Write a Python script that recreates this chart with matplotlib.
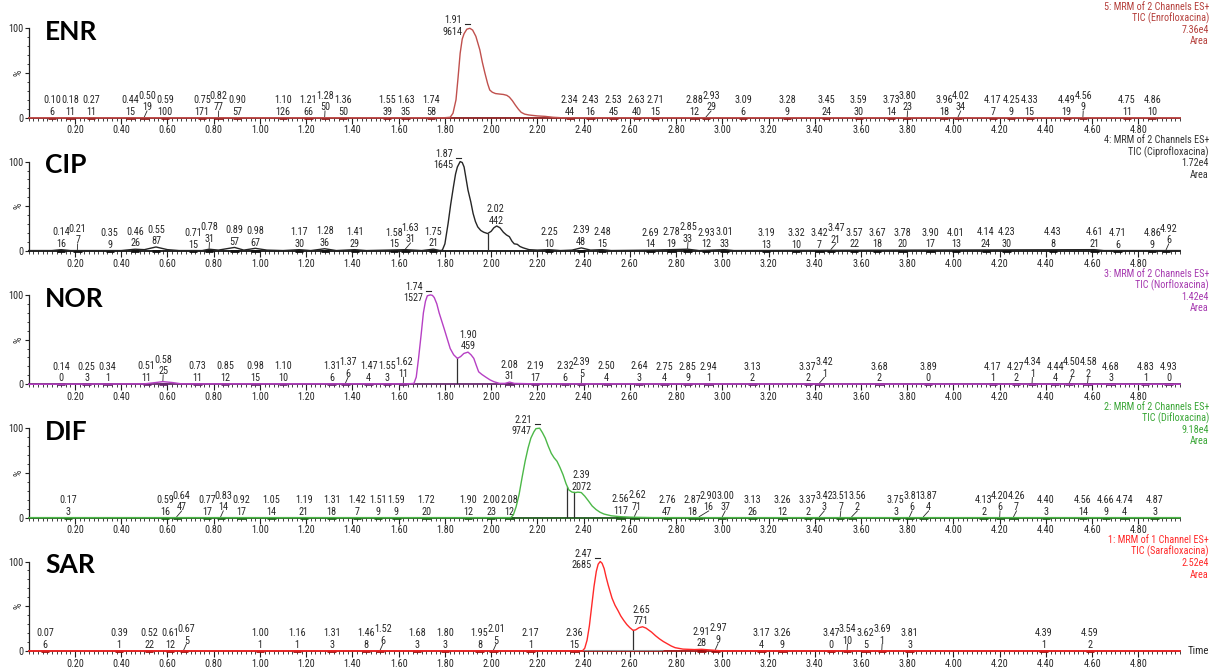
import numpy as np
import matplotlib
matplotlib.use("Agg")
import matplotlib.pyplot as plt
from matplotlib import font_manager
from matplotlib.ticker import MultipleLocator, FixedLocator, FormatStrFormatter

# ---------------- chromatogram traces (time in min, relative intensity %) ----------------
enr_time = [0.00, 1.80, 1.823, 1.835, 1.848, 1.857, 1.866, 1.875, 1.883, 1.895, 1.908, 1.920,
            1.934, 1.951, 1.962, 1.973, 1.985, 1.994, 2.005, 2.019, 2.035, 2.053, 2.068, 2.079,
            2.092, 2.105, 2.118, 2.130, 2.145, 2.164, 2.200, 2.233, 2.267, 2.300, 4.98]
enr_signal = [0.0, 0.0, 0.5, 5, 20, 45, 72, 88, 94, 99, 100, 98,
              91, 76, 62, 50, 38, 31, 28.5, 27, 26.5, 26, 25, 23,
              19, 14, 9.5, 6, 4, 3, 2, 1.5, 0.5, 0.0, 0.0]

cip_time = [0.00, 0.10, 0.14, 0.18, 0.40, 0.46, 0.50, 0.55, 0.60, 0.65, 0.75, 0.78, 0.82, 0.89,
            0.93, 0.98, 1.03, 1.10, 1.17, 1.22, 1.28, 1.33, 1.41, 1.46, 1.55, 1.63, 1.70, 1.75,
            1.78, 1.789, 1.800, 1.814, 1.825, 1.837, 1.846, 1.854, 1.866, 1.875, 1.883, 1.900,
            1.912, 1.922, 1.932, 1.942, 1.955, 1.968, 1.985, 2.000, 2.012, 2.024, 2.038, 2.053,
            2.066, 2.079, 2.090, 2.100, 2.113, 2.125, 2.139, 2.164, 2.20, 2.25, 2.30, 2.35, 2.39,
            2.43, 2.48, 2.52, 2.69, 2.78, 2.85, 2.90, 3.01, 3.05, 4.61, 4.65, 4.98]
cip_signal = [0.5, 0.5, 1.5, 0.5, 0.5, 2, 1.5, 4.5, 1.5, 0.5, 0.5, 2, 1, 4,
              1, 3, 1, 0.5, 1.5, 0.5, 2.5, 0.5, 1.5, 0.5, 1, 1.5, 0.5, 2,
              0.5, 1, 8, 31, 52, 72, 86, 94, 100, 99, 94, 68,
              55, 42, 33, 27, 23, 21, 19.5, 22, 26, 28, 26, 21,
              18, 16, 11, 8, 7.5, 5, 3.5, 1.5, 1, 1.5, 0.5, 1, 3.5,
              1, 1.5, 0.5, 1, 1.5, 2, 0.5, 1.5, 0.5, 1.5, 0.5, 0.5]

nor_time = [0.00, 0.50, 0.55, 0.58, 0.62, 0.66, 1.64, 1.666, 1.676, 1.686, 1.697, 1.707, 1.716,
            1.724, 1.737, 1.746, 1.754, 1.765, 1.775, 1.786, 1.797, 1.810, 1.823, 1.838, 1.854,
            1.868, 1.882, 1.900, 1.913, 1.925, 1.936, 1.946, 1.960, 1.977, 1.995, 2.011, 2.036,
            2.06, 2.08, 2.10, 2.19, 4.98]
nor_signal = [0.0, 0.5, 2, 3, 2, 0.5, 0.5, 1, 8, 29, 55, 80, 93,
              99, 100, 99.5, 97, 90, 80, 71, 62, 51, 40, 33, 29,
              31, 34.5, 36, 33, 29, 21, 14, 11, 8, 5, 3, 1,
              1, 2.5, 1, 0.5, 0.0]

dif_time = [0.00, 2.085, 2.096, 2.108, 2.121, 2.134, 2.147, 2.160, 2.172, 2.185, 2.194, 2.210,
            2.222, 2.234, 2.247, 2.260, 2.272, 2.285, 2.298, 2.311, 2.324, 2.336, 2.350, 2.365,
            2.375, 2.390, 2.405, 2.420, 2.437, 2.454, 2.471, 2.488, 2.52, 2.56, 2.60, 2.70, 4.98]
dif_signal = [0.0, 0.0, 3, 12, 26, 45, 63, 78, 89, 96, 99.5, 100,
              95, 89, 80, 72, 67, 63, 56, 48, 38, 31, 28.5, 28,
              28.5, 28, 24, 19, 13, 9, 6, 4, 2, 1, 0.5, 0.0, 0.0]

sar_time = [0.00, 2.395, 2.405, 2.415, 2.425, 2.435, 2.445, 2.455, 2.463, 2.472, 2.480, 2.489,
            2.497, 2.506, 2.515, 2.523, 2.536, 2.549, 2.561, 2.574, 2.587, 2.600, 2.614, 2.625,
            2.640, 2.655, 2.670, 2.694, 2.711, 2.728, 2.745, 2.762, 2.779, 2.796, 2.83, 2.88,
            2.91, 2.95, 3.00, 4.98]
sar_signal = [0.0, 0.0, 3, 12, 28, 50, 72, 89, 97, 100, 98, 92,
              83, 74, 66, 59, 51, 45, 39, 34, 29.5, 26, 23, 23.5,
              26, 27, 25.5, 21, 17, 13.5, 10.5, 8, 5.5, 3.6, 2, 1.5,
              1.8, 1, 0.0, 0.0]

# ---------------- integrated peaks: retention time and area ----------------
enr_rt = [0.10, 0.18, 0.27, 0.44, 0.50, 0.59, 0.75, 0.82, 0.90, 1.10, 1.21, 1.28, 1.36, 1.55,
          1.63, 1.74, 1.91, 2.34, 2.43, 2.53, 2.63, 2.71, 2.88, 2.93, 3.09, 3.28, 3.45, 3.59,
          3.73, 3.80, 3.96, 4.02, 4.17, 4.25, 4.33, 4.49, 4.56, 4.75, 4.86]
enr_area = [6, 11, 11, 15, 19, 100, 171, 77, 57, 126, 66, 50, 50, 39,
            35, 58, 9614, 44, 16, 45, 40, 15, 12, 29, 6, 9, 24, 30,
            14, 23, 18, 34, 7, 9, 15, 19, 9, 11, 10]

cip_rt = [0.14, 0.21, 0.35, 0.46, 0.55, 0.71, 0.78, 0.89, 0.98, 1.17, 1.28, 1.41, 1.58, 1.63,
          1.75, 1.87, 2.02, 2.25, 2.39, 2.48, 2.69, 2.78, 2.85, 2.93, 3.01, 3.19, 3.32, 3.42,
          3.47, 3.57, 3.67, 3.78, 3.90, 4.01, 4.14, 4.23, 4.43, 4.61, 4.71, 4.86, 4.92]
cip_area = [16, 7, 9, 26, 87, 15, 31, 57, 67, 30, 36, 29, 15, 31,
            21, 1645, 442, 10, 48, 15, 14, 19, 33, 12, 33, 13, 10, 7,
            21, 22, 18, 20, 17, 13, 24, 30, 8, 21, 6, 9, 6]

nor_rt = [0.14, 0.25, 0.34, 0.51, 0.58, 0.73, 0.85, 0.98, 1.10, 1.31, 1.37, 1.47, 1.55, 1.62,
          1.74, 1.90, 2.08, 2.19, 2.32, 2.39, 2.50, 2.64, 2.75, 2.85, 2.94, 3.13, 3.37, 3.42,
          3.68, 3.89, 4.17, 4.27, 4.34, 4.44, 4.50, 4.58, 4.68, 4.83, 4.93]
nor_area = [0, 3, 1, 11, 25, 11, 12, 15, 10, 6, 6, 4, 3, 11,
            1527, 459, 31, 17, 6, 5, 4, 3, 4, 9, 1, 2, 2, 1,
            2, 0, 1, 2, 1, 4, 2, 2, 3, 1, 0]

dif_rt = [0.17, 0.59, 0.64, 0.77, 0.83, 0.92, 1.05, 1.19, 1.31, 1.42, 1.51, 1.59, 1.72, 1.90,
          2.00, 2.08, 2.21, 2.39, 2.56, 2.62, 2.76, 2.87, 2.90, 3.00, 3.13, 3.26, 3.37, 3.42,
          3.51, 3.56, 3.75, 3.81, 3.87, 4.13, 4.20, 4.26, 4.40, 4.56, 4.66, 4.74, 4.87]
dif_area = [3, 16, 47, 17, 14, 17, 14, 21, 18, 7, 9, 9, 20, 12,
            23, 12, 9747, 2072, 117, 71, 47, 18, 16, 37, 26, 12, 2, 3,
            7, 2, 3, 6, 4, 2, 6, 7, 3, 14, 9, 4, 3]

sar_rt = [0.07, 0.39, 0.52, 0.61, 0.67, 1.00, 1.16, 1.31, 1.46, 1.52, 1.68, 1.80, 1.95, 2.01,
          2.17, 2.36, 2.47, 2.65, 2.91, 2.97, 3.17, 3.26, 3.47, 3.54, 3.62, 3.69, 3.81, 4.39, 4.59]
sar_area = [6, 1, 22, 12, 5, 1, 1, 3, 8, 6, 3, 3, 8, 5,
            1, 15, 2685, 771, 28, 9, 4, 9, 0, 10, 5, 1, 3, 1, 2]

# peak split (drop line) times
enr_splits = []
cip_splits = [1.985]
nor_splits = [1.854]
dif_splits = [2.33, 2.36]
sar_splits = [2.614]

# channel descriptions
enr_header = ["5: MRM of 2 Channels ES+", "TIC (Enrofloxacina)", "7.36e4", "Area"]
cip_header = ["4: MRM of 2 Channels ES+", "TIC (Ciprofloxacina)", "1.72e4", "Area"]
nor_header = ["3: MRM of 2 Channels ES+", "TIC (Norfloxacina)", "1.42e4", "Area"]
dif_header = ["2: MRM of 2 Channels ES+", "TIC (Difloxacina)", "9.18e4", "Area"]
sar_header = ["1: MRM of 1 Channel ES+", "TIC (Sarafloxacina)", "2.52e4", "Area"]

panel_names = ["ENR", "CIP", "NOR", "DIF", "SAR"]
x_tick_values = [0.20, 0.40, 0.60, 0.80, 1.00, 1.20, 1.40, 1.60, 1.80, 2.00, 2.20, 2.40,
                 2.60, 2.80, 3.00, 3.20, 3.40, 3.60, 3.80, 4.00, 4.20, 4.40, 4.60, 4.80]

# ---------------- styling ----------------
installed = {f.name for f in font_manager.fontManager.ttflist}
narrow_candidates = ["Liberation Sans Narrow", "Arial Narrow", "Roboto Condensed",
                     "Noto Sans Condensed", "Open Sans Condensed", "Noto Sans SemiCondensed"]
NARROW = next((f for f in narrow_candidates if f in installed), None)
if NARROW is None:
    SMALL = ["Liberation Sans", "DejaVu Sans"]
    FS = 6.2
    CHAR_PX = 4.0
else:
    SMALL = [NARROW, "Liberation Sans", "DejaVu Sans"]
    FS = 7.3
    CHAR_PX = 4.0
TITLE_FONT = ["Lato", "Open Sans", "DejaVu Sans"]

panels = [
    dict(t=enr_time, y=enr_signal, rt=enr_rt, area=enr_area, splits=enr_splits,
         header=enr_header, color="#c0504d", hcolor="#b5403c", base="#8b1c1c"),
    dict(t=cip_time, y=cip_signal, rt=cip_rt, area=cip_area, splits=cip_splits,
         header=cip_header, color="#262626", hcolor="#333333", base="#111111"),
    dict(t=nor_time, y=nor_signal, rt=nor_rt, area=nor_area, splits=nor_splits,
         header=nor_header, color="#b640c4", hcolor="#a63ab0", base="#6a2a70"),
    dict(t=dif_time, y=dif_signal, rt=dif_rt, area=dif_area, splits=dif_splits,
         header=dif_header, color="#4cb848", hcolor="#3aa636", base="#1f5a1c"),
    dict(t=sar_time, y=sar_signal, rt=sar_rt, area=sar_area, splits=sar_splits,
         header=sar_header, color="#ff2a2a", hcolor="#ff2a2a", base="#a01010"),
]

W, H = 1215, 667
X_LEFT, X_RIGHT = 28.8, 1180.0
T_MAX = 4.98
BASE0, STEP, HEIGHT = 117.7, 133.3, 89.4
PX_PER_MIN = (X_RIGHT - X_LEFT) / T_MAX
LABEL_COLOR = "#262626"

fig = plt.figure(figsize=(W / 100, H / 100), dpi=100)


def draw_peak_labels(ax, p):
    t, y = np.asarray(p["t"]), np.asarray(p["y"])
    areas = p["area"]
    imain = int(np.argmax(areas))
    prev_x = None
    prev_w = 0.0
    for i, (rt, ar) in enumerate(zip(p["rt"], areas)):
        top = float(np.interp(rt, t, y))
        s_rt, s_ar = f"{rt:.2f}", str(ar)
        kw = dict(fontsize=FS, family=SMALL, color=LABEL_COLOR, va="center", clip_on=False)
        if i == imain:
            xr = rt - 8 / PX_PER_MIN
            ax.text(xr, top + 9.5, s_rt, ha="right", **kw)
            ax.text(xr, top - 3.5, s_ar, ha="right", **kw)
            ax.plot([rt - 5 / PX_PER_MIN, rt], [top + 5, top + 5], color=LABEL_COLOR,
                    lw=0.8, clip_on=False)
            continue
        w = max(len(s_rt), len(s_ar)) * CHAR_PX
        x = rt
        raised = False
        if top < 5:
            if prev_x is not None:
                sep = ((prev_w + w) / 2 + 0.5) / PX_PER_MIN
                if x - prev_x < sep:
                    x = prev_x + sep
                    raised = True
            prev_x, prev_w = x, w
            # short integration baseline under small peaks
            ax.plot([rt - 0.018, rt + 0.018], [0, 0], color=p["base"], lw=2.0,
                    solid_capstyle="butt", zorder=3, clip_on=False)
        lift = 5.0 if raised else 0.0
        ax.text(x, top + 19.5 + lift, s_rt, ha="center", **kw)
        ax.text(x, top + 6.5 + lift, s_ar, ha="center", **kw)
        if raised:
            ax.plot([rt, x], [top + 1.0, top + 7.5], color=LABEL_COLOR, lw=0.6, clip_on=False)


for i, p in enumerate(panels):
    base_px = BASE0 + i * STEP
    ax = fig.add_axes([X_LEFT / W, 1 - base_px / H, (X_RIGHT - X_LEFT) / W, HEIGHT / H])
    ax.set_xlim(0, T_MAX)
    ax.set_ylim(0, 100)
    ax.patch.set_visible(False)
    for s in ("top", "right"):
        ax.spines[s].set_visible(False)
    ax.spines["left"].set_linewidth(0.9)
    ax.spines["left"].set_color("#202020")
    ax.spines["bottom"].set_linewidth(1.3)
    ax.spines["bottom"].set_color(p["base"])

    ax.xaxis.set_major_locator(FixedLocator(x_tick_values))
    ax.xaxis.set_minor_locator(MultipleLocator(0.02))
    ax.xaxis.set_major_formatter(FormatStrFormatter("%.2f"))
    ax.tick_params(axis="x", which="major", length=4, width=0.8, labelsize=FS, pad=1.5,
                   color="#202020", labelcolor="#262626")
    ax.tick_params(axis="x", which="minor", length=2, width=0.6, color="#202020")
    ax.set_yticks([0, 50, 100])
    ax.set_yticklabels(["0", "%", "100"])
    ax.yaxis.set_minor_locator(MultipleLocator(10))
    ax.tick_params(axis="y", which="major", length=3, width=0.8, labelsize=FS, pad=1,
                   color="#202020", labelcolor="#262626")
    ax.tick_params(axis="y", which="minor", length=1.5, width=0.6, color="#202020")
    for lab in ax.get_xticklabels() + ax.get_yticklabels():
        lab.set_family(SMALL)
    ax.get_yticklabels()[1].set_rotation(90)
    ax.get_yticklabels()[1].set_va("center")

    # chromatogram trace
    ax.plot(p["t"], p["y"], color=p["color"], lw=1.0, zorder=4, clip_on=False)
    # drop lines separating co-eluting peaks
    for st in p["splits"]:
        ax.plot([st, st], [0, np.interp(st, p["t"], p["y"])], color="#303030", lw=0.9, zorder=3)

    draw_peak_labels(ax, p)

    # compound name
    fig.text(45 / W, 1 - (base_px - 77.7) / H, panel_names[i], fontsize=19,
             fontweight="bold", family=TITLE_FONT, va="baseline", ha="left")
    # channel description
    for k, line in enumerate(p["header"]):
        fig.text(1209 / W, 1 - (base_px - 110.7 + k * 11.5) / H, line, fontsize=FS,
                 family=SMALL, color=p["hcolor"], ha="right", va="center")

# integration baseline of the main Sarafloxacina peak
ax_last = fig.axes[-1]
ax_last.plot([2.395, 2.745], [0, 0], color="#8c8c8c", lw=2.2, zorder=3, solid_capstyle="butt")

fig.text(1188 / W, 1 - (BASE0 + 4 * STEP) / H, "Time", fontsize=FS + 0.5, family=SMALL,
         color="#262626", ha="left", va="center")

fig.savefig("out.png", dpi=100)
